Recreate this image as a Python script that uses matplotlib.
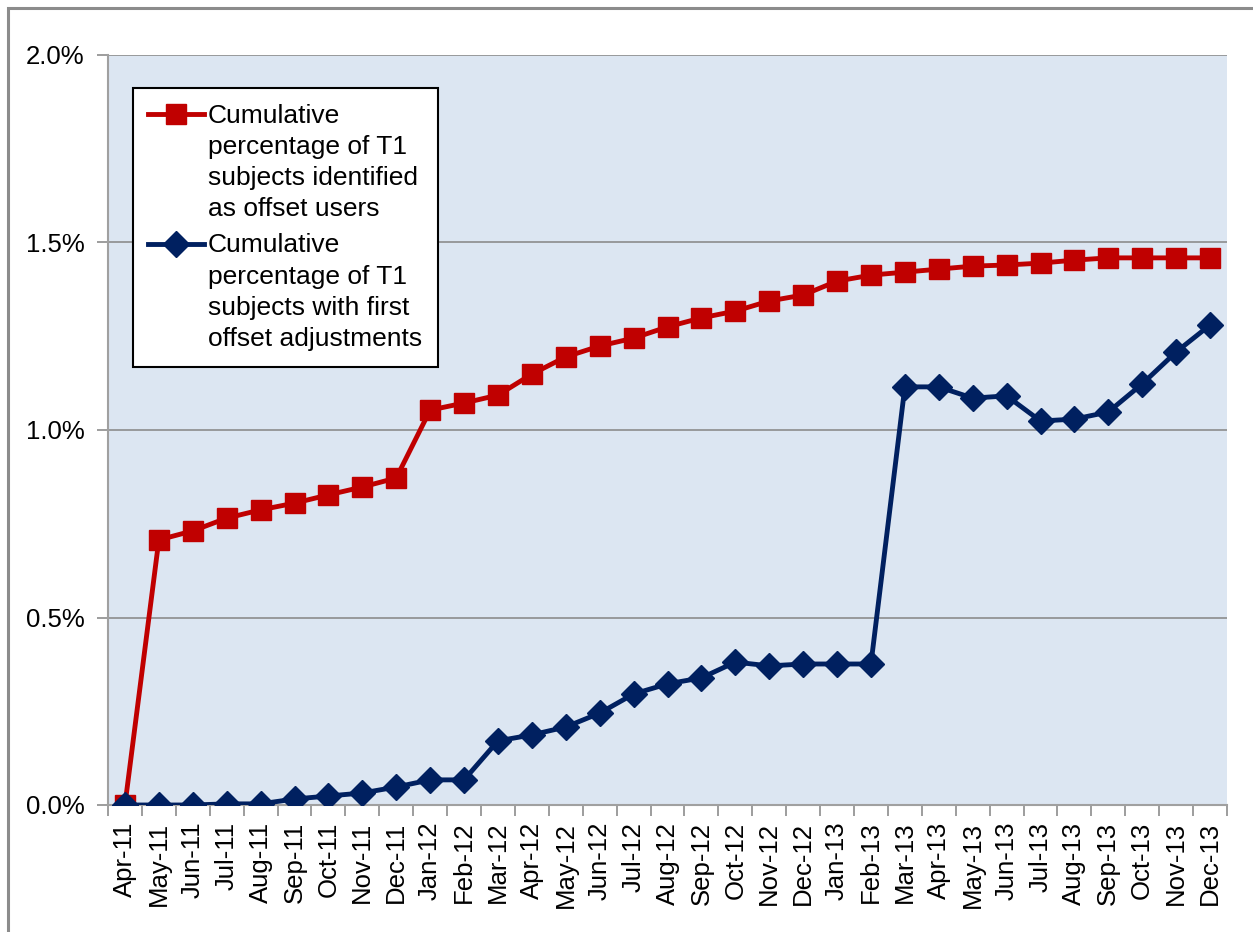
import matplotlib.pyplot as plt
import numpy as np
from matplotlib.patches import Rectangle
from matplotlib.ticker import FuncFormatter, FixedLocator
from matplotlib.legend_handler import HandlerLine2D

months = ['Apr-11', 'May-11', 'Jun-11', 'Jul-11', 'Aug-11', 'Sep-11', 'Oct-11',
          'Nov-11', 'Dec-11', 'Jan-12', 'Feb-12', 'Mar-12', 'Apr-12', 'May-12',
          'Jun-12', 'Jul-12', 'Aug-12', 'Sep-12', 'Oct-12', 'Nov-12', 'Dec-12',
          'Jan-13', 'Feb-13', 'Mar-13', 'Apr-13', 'May-13', 'Jun-13', 'Jul-13',
          'Aug-13', 'Sep-13', 'Oct-13', 'Nov-13', 'Dec-13']

# cumulative % of T1 subjects identified as offset users
identified = [0.000, 0.707, 0.731, 0.765, 0.787, 0.805, 0.827, 0.848, 0.872,
              1.053, 1.072, 1.093, 1.149, 1.195, 1.224, 1.245, 1.275, 1.299,
              1.317, 1.344, 1.360, 1.397, 1.413, 1.421, 1.429, 1.437, 1.440,
              1.445, 1.453, 1.459, 1.459, 1.459, 1.459]

# cumulative % of T1 subjects with first offset adjustments
adjusted = [0.000, 0.000, 0.000, 0.003, 0.003, 0.016, 0.024, 0.032, 0.048,
            0.067, 0.067, 0.171, 0.187, 0.208, 0.245, 0.296, 0.323, 0.339,
            0.381, 0.371, 0.376, 0.376, 0.376, 1.115, 1.115, 1.085, 1.091,
            1.024, 1.029, 1.048, 1.123, 1.208, 1.280]

label_identified = 'Cumulative\npercentage of T1\nsubjects identified\nas offset users'
label_adjusted = 'Cumulative\npercentage of T1\nsubjects with first\noffset adjustments'


class TopLineHandler(HandlerLine2D):
    """Legend handle that sits next to the first line of a multi-line label."""

    def __init__(self, shift, **kw):
        super().__init__(**kw)
        self.shift = shift

    def create_artists(self, legend, orig_handle, xdescent, ydescent,
                       width, height, fontsize, trans):
        artists = super().create_artists(legend, orig_handle, xdescent,
                                         ydescent, width, height, fontsize,
                                         trans)
        for a in artists:
            a.set_ydata(np.asarray(a.get_ydata()) + self.shift * fontsize)
        return artists


plt.rcParams['font.family'] = ['Liberation Sans', 'DejaVu Sans']

fig = plt.figure(figsize=(12.53, 9.32), dpi=100)
# outer chart frame
fig.patches.append(Rectangle((8 / 1253, -0.1), 1.2, 1 - 8 / 932 + 0.1,
                             transform=fig.transFigure, fill=False,
                             edgecolor='#8c8c8c', linewidth=2.2))

ax = fig.add_axes([108 / 1253, 1 - 805 / 932, 1119 / 1253, 750 / 932])
ax.set_facecolor('#dce6f2')

x = np.arange(len(months))
ax.plot(x, identified, color='#c00000', linewidth=3.5, marker='s',
        markersize=15, label=label_identified, zorder=3)
ax.plot(x, adjusted, color='#002060', linewidth=3.5, marker='D',
        markersize=13, label=label_adjusted, zorder=4)

ax.set_xlim(-0.5, len(months) - 0.5)
ax.set_ylim(0, 2.0)
ax.set_yticks([0, 0.5, 1.0, 1.5, 2.0])
ax.yaxis.set_major_formatter(FuncFormatter(lambda v, p: '%.1f%%' % v))
ax.grid(axis='y', color='#8c8c8c', linewidth=1.2)
ax.set_axisbelow(True)

ax.set_xticks(x)
ax.set_xticklabels(months, rotation=90)
ax.xaxis.set_minor_locator(FixedLocator(np.arange(-0.5, len(months), 1)))
ax.tick_params(axis='x', which='major', length=0, pad=12, labelsize=18.5)
ax.tick_params(axis='x', which='minor', length=8, width=1.2, color='#8c8c8c')
ax.tick_params(axis='y', length=8, width=1.2, color='#8c8c8c', pad=9,
               labelsize=18.5)

for side in ['top', 'right']:
    ax.spines[side].set_visible(False)
for side in ['left', 'bottom']:
    ax.spines[side].set_color('#a0a0a0')
    ax.spines[side].set_linewidth(1.5)

handles, labels = ax.get_legend_handles_labels()
leg = ax.legend(handles, labels, loc='upper left',
                bbox_to_anchor=(0.022, 0.956),
                handler_map={h: TopLineHandler(1.85) for h in handles},
                fontsize=19, frameon=True, fancybox=False,
                edgecolor='black', framealpha=1, handlelength=2.1,
                handletextpad=0.15, borderpad=0.6, labelspacing=0.45,
                borderaxespad=0)
leg.get_frame().set_linewidth(1.5)
for t in leg.get_texts():
    t.set_linespacing(1.38)

fig.savefig('out.png', dpi=100)
